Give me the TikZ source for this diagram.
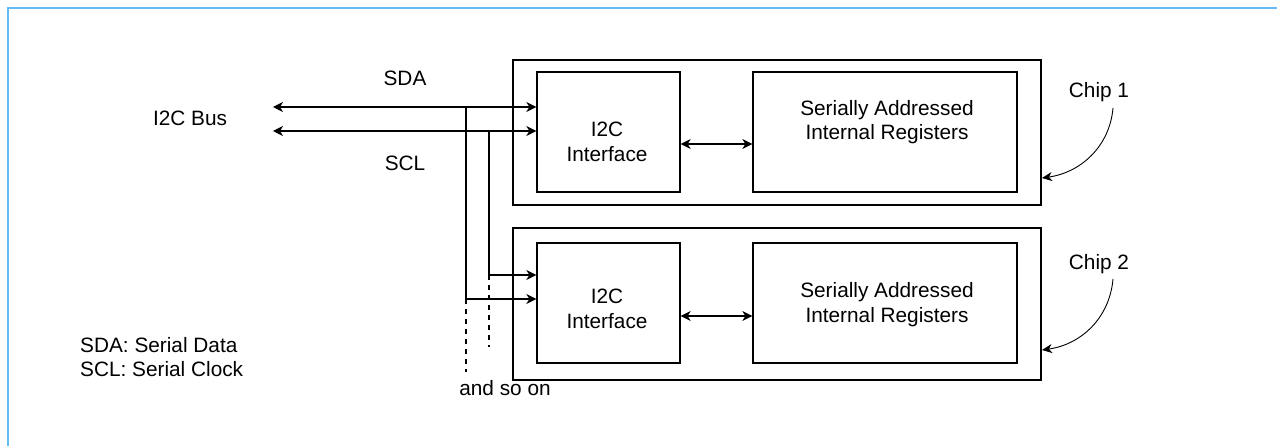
\documentclass[tikz,border=0pt]{standalone}
\usepackage{fontspec}
\setmainfont{Liberation Sans}
\usetikzlibrary{arrows.meta}
\definecolor{frameblue}{RGB}{102,187,245}
\begin{document}
\begin{tikzpicture}[x=1pt,y=-1pt,
  txt/.style={font=\fontsize{20.8}{24.5}\selectfont, inner sep=0pt, align=center},
  box/.style={draw, line width=1.3pt, inner sep=0pt},
  wire/.style={line width=1.3pt},
  tip/.style={-{Stealth[length=10pt,width=10pt,inset=3pt]}},
  tips/.style={{Stealth[length=10pt,width=10pt,inset=3pt]}-{Stealth[length=10pt,width=10pt,inset=3pt]}},
  dashwire/.style={line width=1.3pt, dash pattern=on 5pt off 5pt},
  callout/.style={line width=0.9pt, -{Stealth[length=10pt,width=9pt,inset=3pt]}}]
\useasboundingbox (0,0) rectangle (1277,446);
\draw[frameblue, line width=2.8pt] (8,448) -- (8,8) -- (1279,8);

% chip 1
\node[box, minimum width=528pt, minimum height=145pt] (chip1) at (777,132.5) {};
\node[box, minimum width=143pt, minimum height=120pt] (if1) at (608.5,132) {};
\node[box, minimum width=264pt, minimum height=120pt] (reg1) at (885,132) {};
\node[txt] (if1t) at (607,142) {I2C\\Interface};
\node[txt] (reg1t) at (887,122) {Serially Addressed\\Internal Registers};
\coordinate (a1l) at (if1.east |- 0,144);
\coordinate (a1r) at (reg1.west |- 0,144);
\draw[wire, tips] (a1l) -- (a1r);

% chip 2
\node[box, minimum width=528pt, minimum height=152pt] (chip2) at (777,304) {};
\node[box, minimum width=143pt, minimum height=120pt] (if2) at (608.5,303) {};
\node[box, minimum width=264pt, minimum height=120pt] (reg2) at (885,303) {};
\node[txt] (if2t) at (607,309) {I2C\\Interface};
\node[txt] (reg2t) at (887,304.5) {Serially Addressed\\Internal Registers};
\coordinate (a2l) at (if2.east |- 0,316);
\coordinate (a2r) at (reg2.west |- 0,316);
\draw[wire, tips] (a2l) -- (a2r);

% bus
\coordinate (sdaL) at (273,107);
\coordinate (sclL) at (273,131);
\draw[wire, tips] (sdaL) -- (sdaL -| if1.west);
\draw[wire, tips] (sclL) -- (sclL -| if1.west);
\coordinate (sdaT) at (466,107);
\coordinate (sdaB) at (466,299);
\coordinate (sdaE) at (466,372);
\coordinate (sclT) at (489,131);
\coordinate (sclB) at (489,275);
\coordinate (sclE) at (489,347);
\draw[wire, tip] (sdaT) -- (sdaB) -- (sdaB -| if2.west);
\draw[wire, tip] (sclT) -- (sclB) -- (sclB -| if2.west);
\draw[dashwire] (sdaB) -- (sdaE);
\draw[dashwire] (sclB) -- (sclE);

% labels
\node[txt] (sda) at (405,78) {SDA};
\node[txt] (scl) at (405,163) {SCL};
\node[txt] (bus) at (190,118) {I2C Bus};
\node[txt] (soon) at (505,388) {and so on};
\node[txt, align=left, anchor=west] (legend) at (80,357) {SDA: Serial Data\\SCL: Serial Clock};

% chip callouts
\node[txt] (c1) at (1099,92) {Chip 1};
\node[txt] (c2) at (1099,264) {Chip 2};
\coordinate (c1s) at (1113,108);
\coordinate (c1e) at (1042,178);
\coordinate (c2s) at (1113,279);
\coordinate (c2e) at (1042,350);
\draw[callout] (c1s) to[out=-95, in=8] (c1e);
\draw[callout] (c2s) to[out=-95, in=8] (c2e);
\end{tikzpicture}
\end{document}
